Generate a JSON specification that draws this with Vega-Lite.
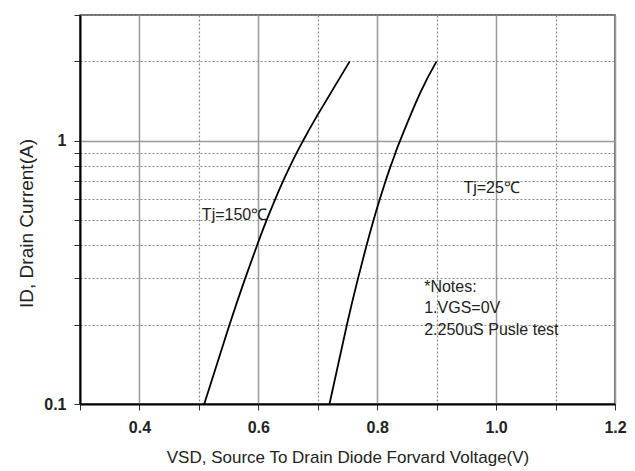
{
  "$schema": "https://vega.github.io/schema/vega-lite/v6.json",
  "width": 535,
  "height": 389,
  "autosize": {"type": "none"},
  "padding": {"left": 80, "top": 15, "right": 20, "bottom": 67},
  "background": "white",
  "config": {
    "view": {"stroke": "#444444", "strokeWidth": 1.5},
    "font": "Liberation Sans"
  },
  "datasets": {
    "curves": [
      {"series": "150C", "vsd": 0.509, "id": 0.1},
      {"series": "150C", "vsd": 0.5515, "id": 0.2},
      {"series": "150C", "vsd": 0.5779, "id": 0.3},
      {"series": "150C", "vsd": 0.5978, "id": 0.4},
      {"series": "150C", "vsd": 0.6141, "id": 0.5},
      {"series": "150C", "vsd": 0.6285, "id": 0.6},
      {"series": "150C", "vsd": 0.6414, "id": 0.7},
      {"series": "150C", "vsd": 0.6534, "id": 0.8},
      {"series": "150C", "vsd": 0.6646, "id": 0.9},
      {"series": "150C", "vsd": 0.6754, "id": 1.0},
      {"series": "150C", "vsd": 0.698, "id": 1.234},
      {"series": "150C", "vsd": 0.7537, "id": 2.0},
      {"series": "25C", "vsd": 0.7197, "id": 0.1},
      {"series": "25C", "vsd": 0.749, "id": 0.2},
      {"series": "25C", "vsd": 0.7677, "id": 0.3},
      {"series": "25C", "vsd": 0.782, "id": 0.4},
      {"series": "25C", "vsd": 0.7939, "id": 0.5},
      {"series": "25C", "vsd": 0.8044, "id": 0.6},
      {"series": "25C", "vsd": 0.8138, "id": 0.7},
      {"series": "25C", "vsd": 0.8226, "id": 0.8},
      {"series": "25C", "vsd": 0.8308, "id": 0.9},
      {"series": "25C", "vsd": 0.8385, "id": 1.0},
      {"series": "25C", "vsd": 0.8721, "id": 1.514},
      {"series": "25C", "vsd": 0.8998, "id": 2.0}
    ],
    "notes": [
      {"vsd": 0.505, "id": 0.522, "label": "Tj=150℃"},
      {"vsd": 0.945, "id": 0.661, "label": "Tj=25℃"},
      {"vsd": 0.879, "id": 0.278, "label": "*Notes:"},
      {"vsd": 0.879, "id": 0.231, "label": "1.VGS=0V"},
      {"vsd": 0.879, "id": 0.1906, "label": "2.250uS Pusle test"}
    ]
  },
  "layer": [
    {
      "data": {"name": "curves"},
      "mark": {"type": "line", "color": "black", "strokeWidth": 1.8, "interpolate": "natural", "clip": true},
      "encoding": {
        "x": {
          "field": "vsd", "type": "quantitative",
          "scale": {"domain": [0.3, 1.2], "nice": false, "zero": false},
          "axis": {
            "title": "VSD, Source To Drain Diode Forvard Voltage(V)",
            "titleFontSize": 17, "titleFontWeight": "normal", "titleColor": "#222222",
            "titleY": 53, "titleBaseline": "middle",
            "values": [0.3, 0.4, 0.5, 0.6, 0.7, 0.8, 0.9, 1.0, 1.1, 1.2],
            "labelExpr": "round(datum.value*10) % 2 == 0 ? format(datum.value, '.1f') : ''",
            "labelFontSize": 16, "labelFontWeight": "bold", "labelColor": "#222222",
            "labelPadding": 9, "labelFlush": false,
            "tickSize": 6, "tickColor": "#333333", "tickWidth": 1,
            "domainColor": "black", "domainWidth": 2,
            "grid": true,
            "gridColor": {"condition": {"test": "round(datum.value*10) % 2 == 0", "value": "#9a9a9a"}, "value": "#8a8a8a"},
            "gridWidth": {"condition": {"test": "round(datum.value*10) % 2 == 0", "value": 1.5}, "value": 1.2},
            "gridDash": {"condition": {"test": "round(datum.value*10) % 2 == 0", "value": []}, "value": [2, 2]}
          }
        },
        "y": {
          "field": "id", "type": "quantitative",
          "scale": {"type": "log", "domain": [0.1, 3], "nice": false},
          "axis": {
            "title": "ID,  Drain Current(A)",
            "titleFontSize": 19, "titleFontWeight": "normal", "titleColor": "#222222",
            "titleX": -54, "titleY": 208, "titleBaseline": "middle", "titleAngle": -90,
            "values": [0.1, 0.2, 0.3, 0.4, 0.5, 0.6, 0.7, 0.8, 0.9, 1, 2, 3],
            "labelExpr": "datum.value == 1 ? '1' : (datum.value == 0.1 ? '0.1' : '')",
            "labelFontSize": 16, "labelFontWeight": "bold", "labelColor": "#222222",
            "labelPadding": 8, "labelFlush": false,
            "tickSize": 6, "tickColor": "#333333", "tickWidth": 1,
            "domainColor": "black", "domainWidth": 2,
            "grid": true,
            "gridColor": {"condition": {"test": "datum.value == 1", "value": "#9a9a9a"}, "value": "#8a8a8a"},
            "gridWidth": {"condition": {"test": "datum.value == 1", "value": 1.5}, "value": 1.2},
            "gridDash": {"condition": {"test": "datum.value == 1", "value": []}, "value": [2, 2]}
          }
        },
        "detail": {"field": "series", "type": "nominal"}
      }
    },
    {
      "data": {"name": "notes"},
      "mark": {"type": "text", "align": "left", "baseline": "middle", "fontSize": 16, "color": "#222222", "font": "Liberation Sans"},
      "encoding": {
        "x": {"field": "vsd", "type": "quantitative"},
        "y": {"field": "id", "type": "quantitative"},
        "text": {"field": "label", "type": "nominal"}
      }
    }
  ]
}
